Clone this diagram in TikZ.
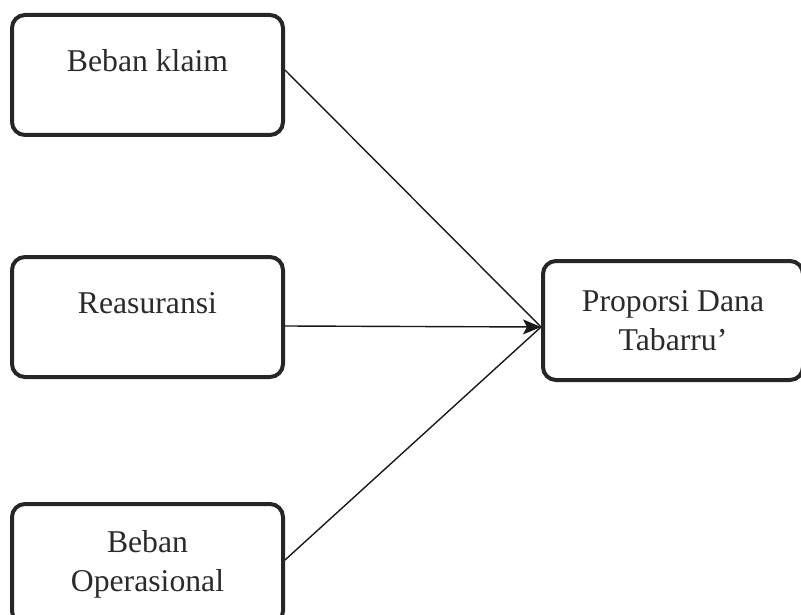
\documentclass[tikz,border=0pt]{standalone}
\usepackage{fontspec}
\setmainfont{Liberation Serif}
\usepackage{xcolor}
\usepackage{tikz}
\usetikzlibrary{arrows.meta,positioning,calc}

\definecolor{boxline}{HTML}{262626}
\definecolor{boxtext}{HTML}{2B2B2B}

\begin{document}
\begin{tikzpicture}[
    x=1pt, y=1pt,
    font=\fontsize{31.7pt}{39pt}\selectfont,
    varbox/.style={rectangle, draw=boxline, line width=4pt, rounded corners=13pt, minimum width=271pt, minimum height=120pt, align=center, text=boxtext, inner sep=0pt},
    oneline/.style={text height=22pt, text depth=29pt},
    link/.style={line width=1.4pt, draw=black!90},
    arrow/.style={link, -{Stealth[length=18pt,width=15pt,inset=4pt]}}
]
\path[use as bounding box, clip] (0,0) rectangle (801,-615);

% Nodes
\node (klaim) [varbox, oneline] at (147.5,-75) {Beban klaim};
\node (reas) [varbox, oneline] at (147.5,-317) {Reasuransi};
\node (opr) [varbox] at (147.5,-564) {Beban\\Operasional};
\node (dana) [varbox, minimum width=260pt, minimum height=119pt] at (673,-320.5) {Proporsi Dana\\Tabarru’};

% Arrows
\draw [link] ([yshift=5pt]klaim.east) -- ([yshift=-6.5pt]dana.west);
\draw [arrow] ([yshift=-9pt]reas.east) -- ([yshift=-6.5pt]dana.west);
\draw [link] ([yshift=4pt]opr.east) -- ([yshift=-6.5pt]dana.west);

\end{tikzpicture}
\end{document}
